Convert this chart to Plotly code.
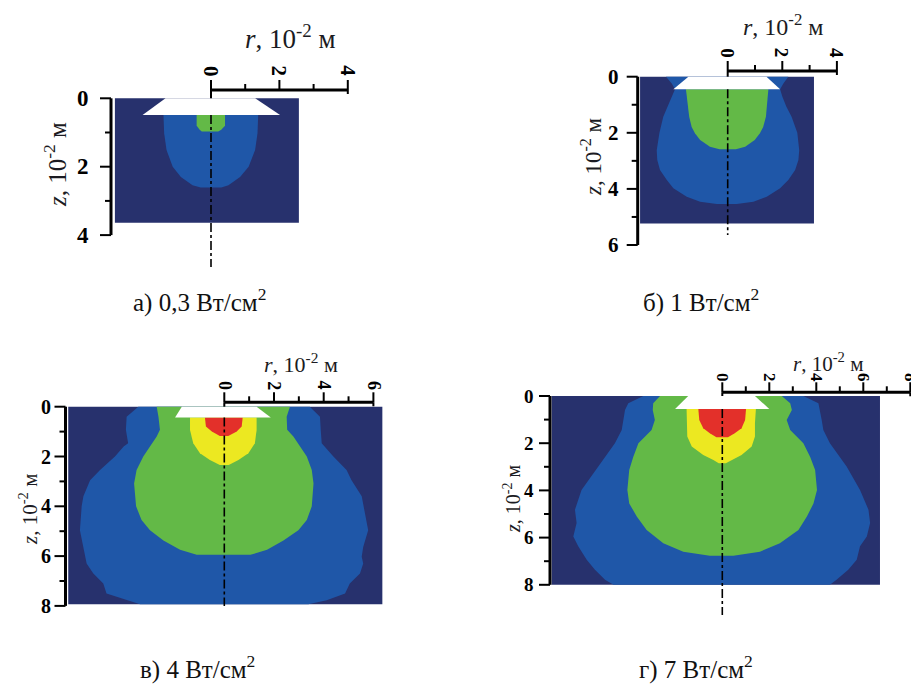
import plotly.graph_objects as go

W, H = 911, 686
NAVY = "#27316d"
BLUE = "#1f57a8"
GREEN = "#63b947"
YELLOW = "#ece821"
RED = "#e3302a"
FONT = "Liberation Serif"

# ---------------- data (units of 10^-2 m) ----------------
# Panel а) 0,3 Вт/см2
a_caption = "а) 0,3 Вт/см<sup>2</sup>"
a_r_ticks = [0, 1, 2, 3, 4]
a_z_ticks = [0, 1, 2, 3, 4]
a_rect = [-2.81, 2.57, 3.64]           # r left, r right, z bottom
a_app = [1.33, 1.29, 2.00, 2.02, 0.49]  # top-left, top-right, bottom-left, bottom-right, depth
a_blue_z = [0.49, 1.02, 1.51, 2.00, 2.30, 2.54, 2.61]
a_blue_l = [1.39, 1.37, 1.30, 1.12, 0.88, 0.54, 0.30]
a_blue_r = [1.38, 1.36, 1.29, 1.10, 0.85, 0.51, 0.30]
a_green_z = [0.49, 0.80, 0.92, 0.97]
a_green_l = [0.42, 0.42, 0.33, 0.27]
a_green_r = [0.41, 0.41, 0.30, 0.21]

# Panel б) 1 Вт/см2
b_caption = "б) 1 Вт/см<sup>2</sup>"
b_r_ticks = [0, 1, 2, 3, 4]
b_z_ticks = [0, 1, 2, 3, 4, 5, 6]
b_rect = [-3.21, 3.16, 5.23]
b_app = [1.44, 1.42, 1.99, 1.92, 0.45]
b_blue_z = [0.00, 0.24, 0.45, 0.71, 1.07, 1.43, 2.00, 2.62, 2.97, 3.33, 3.68, 3.98, 4.28, 4.46, 4.54]
b_blue_l = [2.26, 2.05, 1.93, 2.05, 2.21, 2.36, 2.50, 2.60, 2.58, 2.48, 2.23, 1.99, 1.50, 1.01, 0.40]
b_blue_r = [2.22, 2.04, 1.92, 2.00, 2.15, 2.34, 2.55, 2.62, 2.59, 2.47, 2.22, 1.92, 1.43, 0.94, 0.33]
b_green_z = [0.45, 1.07, 1.43, 1.79, 2.02, 2.26, 2.50, 2.59]
b_green_l = [1.53, 1.44, 1.41, 1.32, 1.20, 1.01, 0.65, 0.30]
b_green_r = [1.49, 1.43, 1.40, 1.30, 1.18, 0.99, 0.64, 0.30]

# Panel в) 4 Вт/см2
c_caption = "в) 4 Вт/см<sup>2</sup>"
c_r_ticks = [0, 1, 2, 3, 4, 5, 6]
c_z_ticks = [0, 1, 2, 3, 4, 5, 6, 7, 8]
c_rect = [-6.28, 6.36, 7.93]
c_app = [1.71, 1.30, 1.98, 1.87, 0.43]
c_blue_z = [0.00, 0.40, 0.93, 1.47, 1.60, 2.00, 2.54, 2.95, 3.60, 4.00, 4.96, 5.63, 6.03, 6.30, 6.70, 7.10, 7.50, 7.77, 7.93]
c_blue_l = [3.46, 3.93, 3.96, 3.87, 4.05, 4.40, 5.00, 5.40, 5.67, 5.74, 5.81, 5.67, 5.60, 5.54, 5.27, 4.87, 4.74, 3.93, 3.39]
c_blue_r = [3.44, 3.85, 3.88, 3.92, 4.05, 4.39, 4.92, 5.12, 5.53, 5.59, 5.79, 5.59, 5.53, 5.59, 5.46, 5.05, 4.86, 4.12, 3.38]
c_green_z = [0.00, 0.40, 0.93, 1.20, 1.60, 2.00, 2.54, 3.08, 4.00, 4.55, 4.96, 5.37, 5.75, 5.95]
c_green_l = [2.72, 2.65, 2.59, 2.72, 2.99, 3.26, 3.53, 3.63, 3.55, 3.33, 2.99, 2.45, 1.78, 1.11]
c_green_r = [2.64, 2.51, 2.53, 2.78, 3.05, 3.32, 3.52, 3.59, 3.52, 3.32, 2.98, 2.38, 1.72, 1.05]
c_yellow_z = [0.43, 0.94, 1.47, 1.87, 2.14, 2.34]
c_yellow_l = [1.38, 1.38, 1.25, 0.98, 0.58, 0.18]
c_yellow_r = [1.30, 1.30, 1.23, 0.97, 0.57, 0.18]
c_red_z = [0.43, 0.80, 1.00, 1.18]
c_red_l = [0.78, 0.74, 0.50, 0.18]
c_red_r = [0.74, 0.70, 0.50, 0.16]

# Panel г) 7 Вт/см2
d_caption = "г) 7 Вт/см<sup>2</sup>"
d_r_ticks = [0, 1, 2, 3, 4, 5, 6, 7, 8]
d_z_ticks = [0, 1, 2, 3, 4, 5, 6, 7, 8]
d_rect = [-7.26, 6.71, 8.00]
d_app = [1.45, 1.39, 2.01, 2.00, 0.55]
d_blue_z = [0.00, 0.31, 0.59, 1.02, 1.44, 2.00, 2.99, 3.98, 4.82, 5.38, 5.95, 6.37, 6.94, 7.36, 7.79, 8.00]
d_blue_l = [3.36, 4.00, 4.14, 4.21, 4.28, 4.57, 5.28, 5.99, 6.27, 6.20, 6.34, 6.13, 5.77, 5.42, 4.99, 4.63]
d_blue_r = [3.45, 4.09, 4.16, 4.23, 4.30, 4.58, 5.29, 5.86, 6.22, 6.29, 6.15, 5.86, 5.72, 5.36, 4.86, 4.58]
d_green_z = [0.00, 0.31, 0.59, 1.02, 1.44, 2.00, 2.58, 3.14, 3.98, 4.55, 5.11, 5.68, 6.24, 6.60, 6.77]
d_green_l = [2.65, 2.94, 2.96, 2.87, 3.01, 3.57, 3.79, 3.96, 4.04, 3.96, 3.64, 3.22, 2.51, 1.66, 0.53]
d_green_r = [2.53, 2.89, 2.96, 2.74, 2.89, 3.45, 3.74, 3.95, 4.03, 3.88, 3.60, 3.24, 2.45, 1.60, 0.47]
d_yellow_z = [0.55, 1.15, 1.72, 2.14, 2.50, 2.71, 2.85]
d_yellow_l = [1.52, 1.52, 1.49, 1.30, 0.81, 0.38, 0.15]
d_yellow_r = [1.43, 1.39, 1.39, 1.25, 0.82, 0.40, 0.15]
d_red_z = [0.55, 1.02, 1.37, 1.58, 1.75]
d_red_l = [1.02, 0.98, 0.81, 0.53, 0.25]
d_red_r = [1.01, 0.97, 0.82, 0.53, 0.24]

panels = [
    dict(caption=a_caption, r_ticks=a_r_ticks, z_ticks=a_z_ticks, rect=a_rect, app=a_app,
         zones=[(BLUE, a_blue_z, a_blue_l, a_blue_r), (GREEN, a_green_z, a_green_l, a_green_r)]),
    dict(caption=b_caption, r_ticks=b_r_ticks, z_ticks=b_z_ticks, rect=b_rect, app=b_app,
         zones=[(BLUE, b_blue_z, b_blue_l, b_blue_r), (GREEN, b_green_z, b_green_l, b_green_r)]),
    dict(caption=c_caption, r_ticks=c_r_ticks, z_ticks=c_z_ticks, rect=c_rect, app=c_app,
         zones=[(BLUE, c_blue_z, c_blue_l, c_blue_r), (GREEN, c_green_z, c_green_l, c_green_r),
                (YELLOW, c_yellow_z, c_yellow_l, c_yellow_r), (RED, c_red_z, c_red_l, c_red_r)]),
    dict(caption=d_caption, r_ticks=d_r_ticks, z_ticks=d_z_ticks, rect=d_rect, app=d_app,
         zones=[(BLUE, d_blue_z, d_blue_l, d_blue_r), (GREEN, d_green_z, d_green_l, d_green_r),
                (YELLOW, d_yellow_z, d_yellow_l, d_yellow_r), (RED, d_red_z, d_red_l, d_red_r)]),
]

# ---------------- layout geometry (pixels) ----------------
geoms = [
    dict(ox=211, oy=98.3, sx=34.2, sy=34.2, box=(0, 0, 455, 330), rax_y=90, zax_x=111, dash_end=267,
         zlab_dx=-20, rlab_dy=19, rtitle=(290, 37, 27), ztitle=(55, 165, 25), cap=(199, 300), tickfs=21),
    dict(ox=727.7, oy=76.7, sx=27.3, sy=28.05, box=(456, 0, 911, 330), rax_y=71, zax_x=637.7, dash_end=235,
         zlab_dx=-17, rlab_dy=18, rtitle=(783, 25, 24), ztitle=(592, 157, 23), cap=(701, 300), tickfs=19),
    dict(ox=224.3, oy=406.7, sx=24.85, sy=24.9, box=(0, 330, 455, 686), rax_y=402.3, zax_x=65.5, dash_end=606,
         zlab_dx=-13, rlab_dy=17, rtitle=(301, 363, 22), ztitle=(28, 510, 21), cap=(197, 667), tickfs=18),
    dict(ox=722.3, oy=396, sx=23.5, sy=23.6, box=(456, 330, 911, 686), rax_y=392.3, zax_x=550, dash_end=615,
         zlab_dx=-14, rlab_dy=15, rtitle=(828, 362, 21), ztitle=(512, 499, 20), cap=(696, 667), tickfs=17),
]

fig = go.Figure()
annotations = []
layout = {}

for i, (p, g) in enumerate(zip(panels, geoms)):
    n = "" if i == 0 else str(i + 1)
    xa, ya = "x" + n, "y" + n
    bx0, by0, bx1, by1 = g["box"]
    layout["xaxis" + n] = dict(domain=[bx0 / W, bx1 / W], anchor=ya, visible=False, fixedrange=True,
                               range=[(bx0 - g["ox"]) / g["sx"], (bx1 - g["ox"]) / g["sx"]])
    layout["yaxis" + n] = dict(domain=[1 - by1 / H, 1 - by0 / H], anchor=xa, visible=False, fixedrange=True,
                               range=[(by1 - g["oy"]) / g["sy"], (by0 - g["oy"]) / g["sy"]])

    def add(x, y, **kw):
        fig.add_trace(go.Scatter(x=x, y=y, xaxis=xa, yaxis=ya, showlegend=False,
                                 hoverinfo="skip", **kw))

    rl, rr, zb = p["rect"]
    add([rl, rr, rr, rl, rl], [0, 0, zb, zb, 0], mode="lines", fill="toself",
        fillcolor=NAVY, line=dict(width=0))
    for color, zz, ll, rrr in p["zones"]:
        xs = [-v for v in ll] + list(reversed(rrr))
        ys = list(zz) + list(reversed(zz))
        add(xs, ys, mode="lines", fill="toself", fillcolor=color, line=dict(width=0))
    tl, tr, bl, br, dz = p["app"]
    add([-tl, tr, br, -bl, -tl], [0, 0, dz, dz, 0], mode="lines", fill="toself",
        fillcolor="white", line=dict(width=0))

    # dash-dot symmetry axis
    z_dash_end = (g["dash_end"] - g["oy"]) / g["sy"]
    add([0, 0], [dz, z_dash_end], mode="lines",
        line=dict(color="black", width=1.6, dash="dashdot"))

    # r axis (top)
    z_rax = (g["rax_y"] - g["oy"]) / g["sy"]
    rt = p["r_ticks"]
    add([rt[0], rt[-1]], [z_rax, z_rax], mode="lines", line=dict(color="black", width=3))
    tx, ty = [], []
    for v in rt:
        L = 10 if v % 2 == 0 else 6
        tx += [v, v, None]
        ty += [z_rax, z_rax - L / g["sy"], None]
    add(tx, ty, mode="lines", line=dict(color="black", width=2))
    add([0, 0, None, rt[-1], rt[-1]], [z_rax, 0, None, z_rax, z_rax + 4 / g["sy"]],
        mode="lines", line=dict(color="black", width=2))
    for v in rt:
        if v % 2 == 0:
            annotations.append(dict(x=v, y=z_rax, xref=xa, yref=ya, text="<b>%d</b>" % v,
                                    showarrow=False, textangle=90, yshift=g["rlab_dy"],
                                    xanchor="center", yanchor="middle",
                                    font=dict(family=FONT, size=g["tickfs"], color="black")))

    # z axis (left)
    r_zax = (g["zax_x"] - g["ox"]) / g["sx"]
    zt = p["z_ticks"]
    add([r_zax, r_zax], [zt[0], zt[-1]], mode="lines", line=dict(color="black", width=3))
    tx, ty = [], []
    for v in zt:
        L = 11 if v % 2 == 0 else 6
        tx += [r_zax, r_zax - L / g["sx"], None]
        ty += [v, v, None]
    add(tx, ty, mode="lines", line=dict(color="black", width=2))
    for v in zt:
        if v % 2 == 0:
            annotations.append(dict(x=r_zax, y=v, xref=xa, yref=ya, text="<b>%d</b>" % v,
                                    showarrow=False, xanchor="right", yanchor="middle",
                                    xshift=g["zlab_dx"],
                                    font=dict(family=FONT, size=g["tickfs"] + 2, color="black")))

    # titles
    x_, y_, fs = g["rtitle"]
    annotations.append(dict(x=x_ / W, y=1 - y_ / H, xref="paper", yref="paper", showarrow=False,
                            xanchor="center", yanchor="middle",
                            text="<i>r</i>, 10<sup>-2</sup> м",
                            font=dict(family=FONT, size=fs, color="#1b1b22")))
    x_, y_, fs = g["ztitle"]
    annotations.append(dict(x=x_ / W, y=1 - y_ / H, xref="paper", yref="paper", showarrow=False,
                            xanchor="center", yanchor="middle",
                            text="<i>z</i>, 10<sup>-2</sup> м", textangle=-90,
                            font=dict(family=FONT, size=fs, color="#1b1b22")))
    x_, y_ = g["cap"]
    annotations.append(dict(x=x_ / W, y=1 - y_ / H, xref="paper", yref="paper", showarrow=False,
                            xanchor="center", yanchor="middle",
                            text=p["caption"],
                            font=dict(family=FONT, size=25, color="#111111")))

fig.update_layout(width=W, height=H, margin=dict(l=0, r=0, t=0, b=0),
                  paper_bgcolor="white", plot_bgcolor="rgba(0,0,0,0)",
                  annotations=annotations, **layout)

fig.write_html("out.html", config={"displayModeBar": False},
               post_script="document.body.style.margin='0px';")
